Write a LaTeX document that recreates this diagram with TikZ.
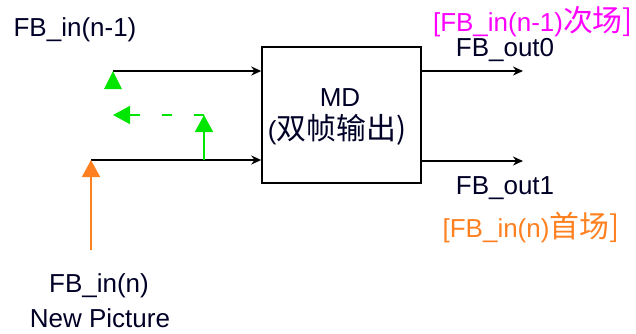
\documentclass[tikz,border=0pt]{standalone}
\usepackage{fontspec}
\setmainfont{Liberation Sans}
\newfontfamily\cjk[Scale=1.15]{Noto Sans CJK SC}
\usetikzlibrary{arrows.meta,calc}
\definecolor{fgreen}{RGB}{0,230,0}
\definecolor{forange}{RGB}{255,128,32}
\definecolor{fmag}{RGB}{255,0,255}
\tikzset{
  lbl/.style={font=\fontsize{26}{30}\selectfont, inner sep=0pt, text=black!85!blue},
  blk/.style={draw=black, line width=1.5pt, -{Stealth[length=10pt,width=9pt]}},
  grn/.style={draw=fgreen, line width=1.5pt, -{Triangle[length=17pt,width=18pt]}},
  org/.style={draw=forange, line width=1.5pt, -{Triangle[length=17pt,width=18pt]}},
  tri/.style={fill=fgreen},
}
\begin{document}
\begin{tikzpicture}[x=1pt,y=-1pt]
\useasboundingbox (0,0) rectangle (636,333);
\node[draw, line width=1.5pt, minimum width=159pt, minimum height=136pt, inner sep=0pt] (MD) at (341.5,115) {};
\node[lbl] (mdt) at (340,98) {MD};
\node[lbl] (mdc) at (337,130) {(\cjk{双帧输出})};
\coordinate (inA) at (113,71);
\coordinate (inB) at (91,160);
\coordinate (fb) at (204,160);
\coordinate (fbtop) at (204,115);
\coordinate (dashend) at (113,115);
\coordinate (orgsrc) at (91,250);
\coordinate (outA) at (523,71);
\coordinate (outB) at (523,161);
% input lines
\draw[blk] (inA) -- (inA -| MD.west);
\draw[blk] (inB) -- (inB -| MD.west);
% output lines
\draw[blk] (MD.east |- outA) -- (outA);
\draw[blk] (MD.east |- outB) -- (outB);
% green triangle at top input
\fill[tri] (inA) -- ++(-9,18) -- ++(18,0) -- cycle;
% green feedback
\draw[grn] (fb) -- (fbtop);
\draw[grn, dash pattern=on 10pt off 22pt, dash phase=0pt] (fbtop) -- (dashend);
% orange input
\draw[org] (orgsrc) -- (inB);
% labels
\node[lbl] (l1) at (75,30) {FB\_in(n-1)};
\node[lbl, text=fmag] (l2) at (533,22) {[FB\_in(n-1)\cjk{次场}]};
\node[lbl] (l3) at (505,50) {FB\_out0};
\node[lbl] (l4) at (505,188) {FB\_out1};
\node[lbl, text=forange] (l5) at (531,228) {[FB\_in(n)\cjk{首场}]};
\node[lbl] (l6) at (99,286) {FB\_in(n)};
\node[lbl] (l7) at (100,318) {New Picture};
\end{tikzpicture}
\end{document}
